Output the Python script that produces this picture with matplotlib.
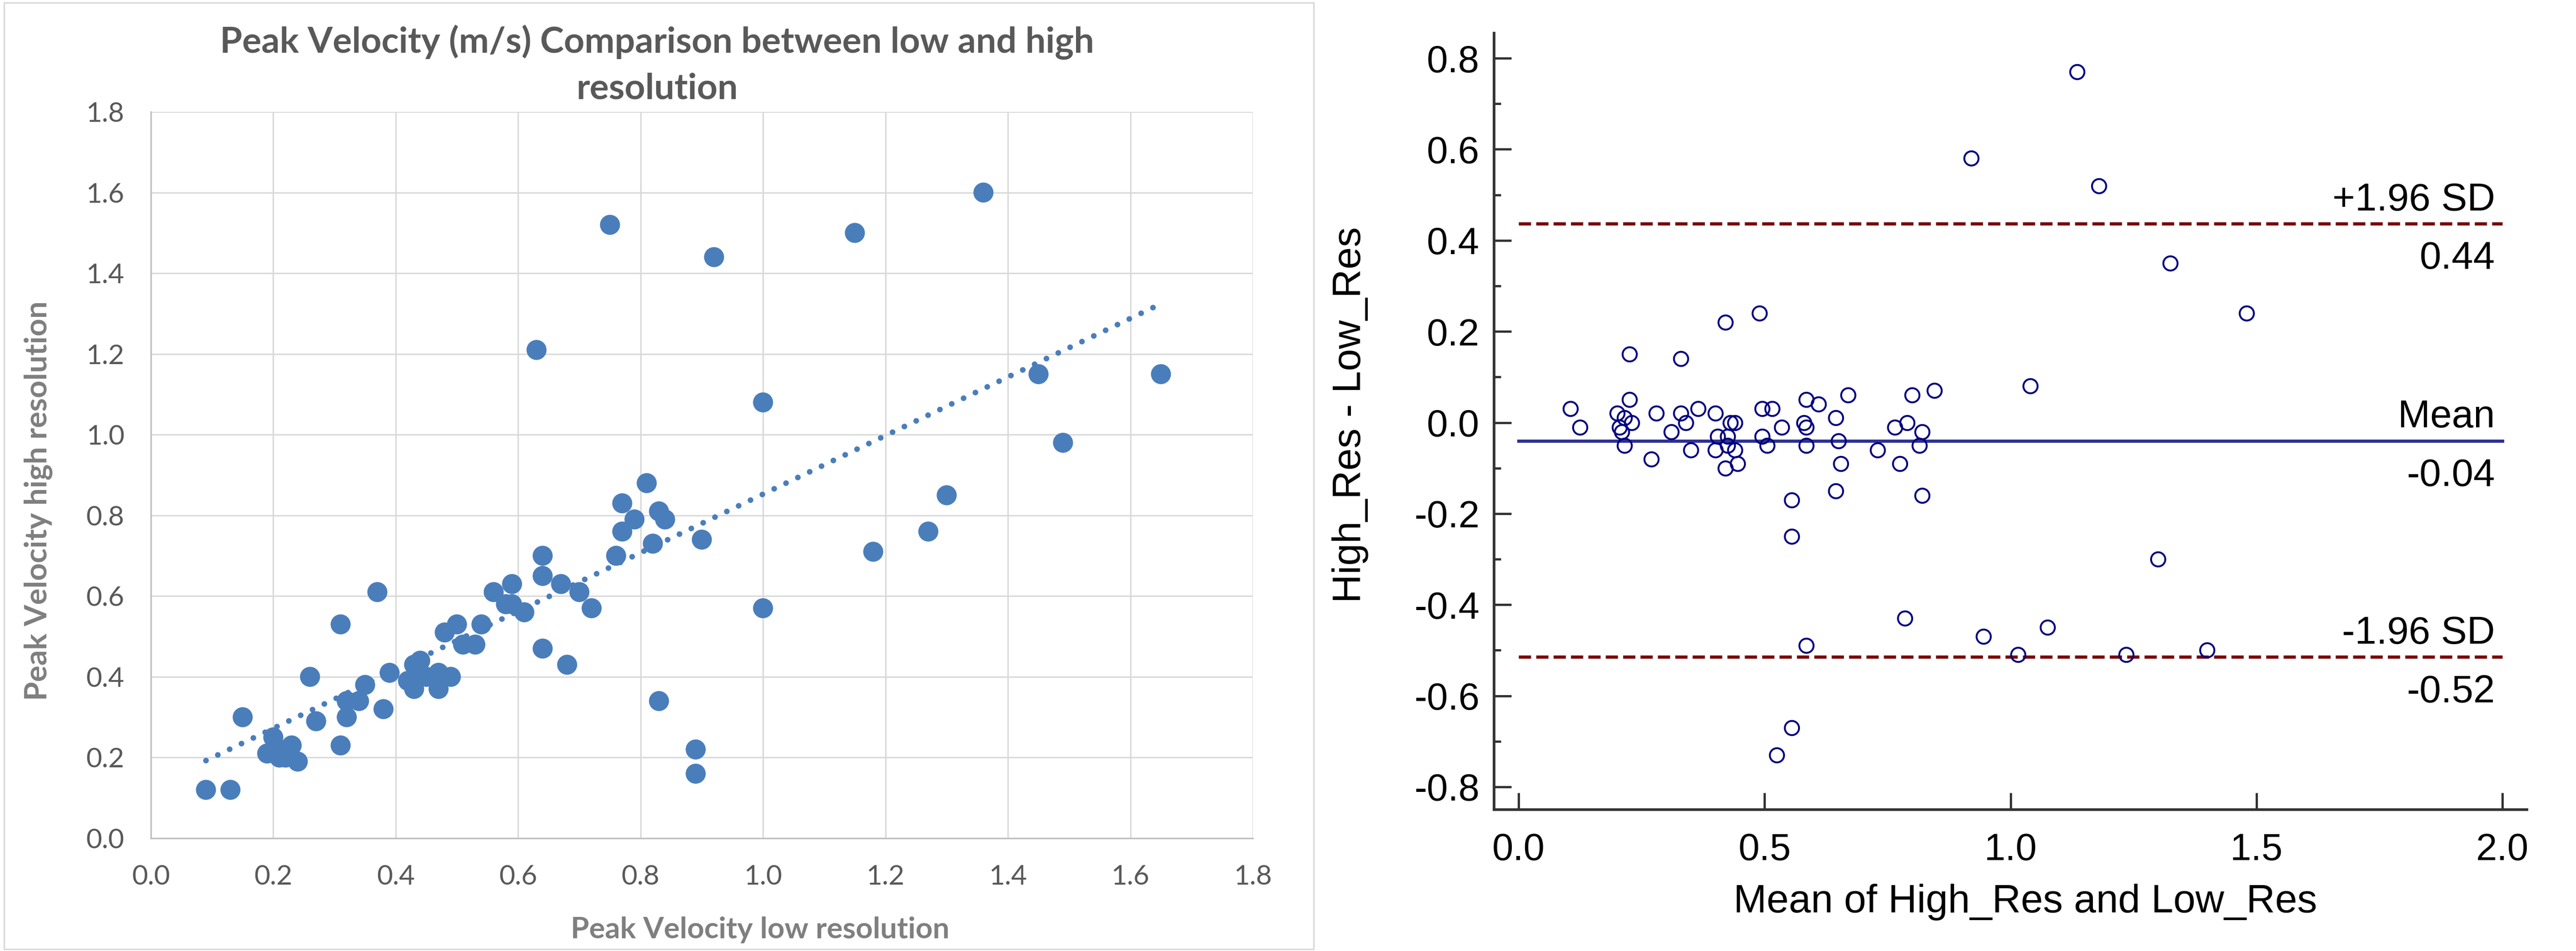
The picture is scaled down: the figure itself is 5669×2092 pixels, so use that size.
import numpy as np
import matplotlib.pyplot as plt
from matplotlib.patches import Rectangle
from matplotlib.ticker import MultipleLocator, FormatStrFormatter

# peak velocity (m/s), one pair per vessel
low_res = [0.09, 0.13, 0.15, 0.19, 0.20, 0.21, 0.21, 0.22, 0.23, 0.24,
           0.26, 0.27, 0.31, 0.31, 0.32, 0.32, 0.34, 0.35, 0.37, 0.38,
           0.39, 0.42, 0.43, 0.43, 0.44, 0.44, 0.45, 0.47, 0.47, 0.48,
           0.49, 0.50, 0.51, 0.53, 0.54, 0.56, 0.58, 0.59, 0.59, 0.61,
           0.63, 0.64, 0.64, 0.64, 0.67, 0.68, 0.70, 0.72, 0.75, 0.76,
           0.77, 0.77, 0.79, 0.81, 0.82, 0.83, 0.83, 0.84, 0.89, 0.89,
           0.90, 0.92, 1.00, 1.00, 1.15, 1.18, 1.27, 1.30, 1.36, 1.45,
           1.49, 1.65]
high_res = [0.12, 0.12, 0.30, 0.21, 0.25, 0.20, 0.22, 0.20, 0.23, 0.19,
            0.40, 0.29, 0.53, 0.23, 0.34, 0.30, 0.34, 0.38, 0.61, 0.32,
            0.41, 0.39, 0.37, 0.43, 0.44, 0.41, 0.40, 0.41, 0.37, 0.51,
            0.40, 0.53, 0.48, 0.48, 0.53, 0.61, 0.58, 0.63, 0.58, 0.56,
            1.21, 0.70, 0.65, 0.47, 0.63, 0.43, 0.61, 0.57, 1.52, 0.70,
            0.83, 0.76, 0.79, 0.88, 0.73, 0.81, 0.34, 0.79, 0.22, 0.16,
            0.74, 1.44, 1.08, 0.57, 1.50, 0.71, 0.76, 0.85, 1.60, 1.15,
            0.98, 1.15]

# Bland-Altman lines (from the original analysis)
bias = -0.04
loa_upper = 0.437
loa_lower = -0.515
line_labels = [('+1.96 SD', '0.44', loa_upper),
               ('Mean', '-0.04', bias),
               ('-1.96 SD', '-0.52', loa_lower)]

plt.rcParams['axes.unicode_minus'] = False

W, H = 5669, 2092
fig = plt.figure(figsize=(W / 300, H / 300), dpi=300)

# ---------- left: Excel style scatter ----------
xl_blue = '#4a7ebb'
xl_text = '#595959'
xl_label = '#7f7f7f'
xl_font = ['Lato', 'DejaVu Sans']

fig.patches.append(Rectangle((0.0015, 0.002), 0.5085, 0.995, transform=fig.transFigure,
                             fill=False, edgecolor='#d9d9d9', lw=0.8))

ax1 = fig.add_axes([332 / W, 1 - 1844 / H, (2757 - 332) / W, (1844 - 246) / H])
ax1.scatter(low_res, high_res, s=112, color=xl_blue, edgecolors='none', zorder=3)

fit = np.polyfit(low_res, high_res, 1)
x_fit = np.array([min(low_res), max(low_res)])
ax1.plot(x_fit, np.polyval(fit, x_fit), color=xl_blue, lw=3,
         linestyle=(0, (0.01, 2.3)), dash_capstyle='round', zorder=4)

ax1.set_xlim(0, 1.8)
ax1.set_ylim(0, 1.8)
ax1.xaxis.set_major_locator(MultipleLocator(0.2))
ax1.yaxis.set_major_locator(MultipleLocator(0.2))
ax1.xaxis.set_major_formatter(FormatStrFormatter('%.1f'))
ax1.yaxis.set_major_formatter(FormatStrFormatter('%.1f'))
ax1.grid(True, color='#d9d9d9', lw=0.75)
ax1.set_axisbelow(True)
for side in ['top', 'right']:
    ax1.spines[side].set_visible(False)
for side in ['left', 'bottom']:
    ax1.spines[side].set_color('#bfbfbf')
    ax1.spines[side].set_linewidth(0.8)
ax1.tick_params(length=0, labelsize=14.5, labelcolor=xl_text)
ax1.tick_params(axis='x', pad=14)
ax1.tick_params(axis='y', pad=14)
for lab in ax1.get_xticklabels() + ax1.get_yticklabels():
    lab.set_family(xl_font)

fig.text(1446 / W, 1 - 117 / H, 'Peak Velocity (m/s) Comparison between low and high',
         ha='center', va='baseline', fontsize=19, fontweight='bold', color=xl_text, family=xl_font)
fig.text(1446 / W, 1 - 217 / H, 'resolution',
         ha='center', va='baseline', fontsize=19, fontweight='bold', color=xl_text, family=xl_font)
fig.text(1673 / W, 1 - 2064 / H, 'Peak Velocity low resolution',
         ha='center', va='baseline', fontsize=15.7, fontweight='bold', color=xl_label, family=xl_font)
fig.text(84 / W, 1 - 1102 / H, 'Peak Velocity high resolution', rotation=90,
         ha='center', va='center', fontsize=16.2, fontweight='bold', color=xl_label, family=xl_font)

# ---------- right: Bland-Altman ----------
ba_font = ['Liberation Sans', 'DejaVu Sans']
mean_vals = (np.array(high_res) + np.array(low_res)) / 2
diff_vals = np.array(high_res) - np.array(low_res)

ax2 = fig.add_axes([3288 / W, 1 - 1781 / H, (5561 - 3288) / W, (1781 - 73) / H])
ax2.plot(mean_vals, diff_vals, 'o', mfc='none', mec='#000080', ms=7.5, mew=1.0, zorder=3)

ax2.plot([0, 2], [bias, bias], color='#2e3192', lw=1.7, zorder=2)
for y in [loa_upper, loa_lower]:
    ax2.plot([0, 2], [y, y], color='#7a0000', lw=1.7, linestyle=(0, (3.8, 1.6)), zorder=2)

for name, val, y in line_labels:
    ax2.annotate(name, xy=(1.985, y), xytext=(0, 7), textcoords='offset points',
                 ha='right', va='baseline', fontsize=20.5, family=ba_font)
    ax2.annotate(val, xy=(1.985, y), xytext=(0, -9), textcoords='offset points',
                 ha='right', va='top', fontsize=20.5, family=ba_font)

ax2.set_xlim(-0.05, 2.05)
ax2.set_ylim(-0.85, 0.855)
ax2.xaxis.set_major_locator(MultipleLocator(0.5))
ax2.yaxis.set_major_locator(MultipleLocator(0.2))
ax2.yaxis.set_minor_locator(MultipleLocator(0.1))
ax2.xaxis.set_major_formatter(FormatStrFormatter('%.1f'))
ax2.yaxis.set_major_formatter(FormatStrFormatter('%.1f'))
for side in ['top', 'right']:
    ax2.spines[side].set_visible(False)
for side in ['left', 'bottom']:
    ax2.spines[side].set_color('#333333')
    ax2.spines[side].set_linewidth(1.4)
ax2.tick_params(which='major', direction='in', length=9, width=1.2, color='#333333',
                labelsize=20, labelcolor='black')
ax2.tick_params(which='minor', direction='in', length=3.6, width=1.2, color='#333333')
ax2.tick_params(axis='x', pad=12)
ax2.tick_params(axis='y', pad=7.7)
for lab in ax2.get_xticklabels() + ax2.get_yticklabels():
    lab.set_family(ba_font)

fig.text(4457 / W, 1 - 2007 / H, 'Mean of High_Res and Low_Res',
         ha='center', va='baseline', fontsize=21, family=ba_font)
fig.text(2971 / W, 1 - 913 / H, 'High_Res - Low_Res', rotation=90,
         ha='center', va='center', fontsize=21, family=ba_font)

fig.savefig('out.png', dpi=300)
